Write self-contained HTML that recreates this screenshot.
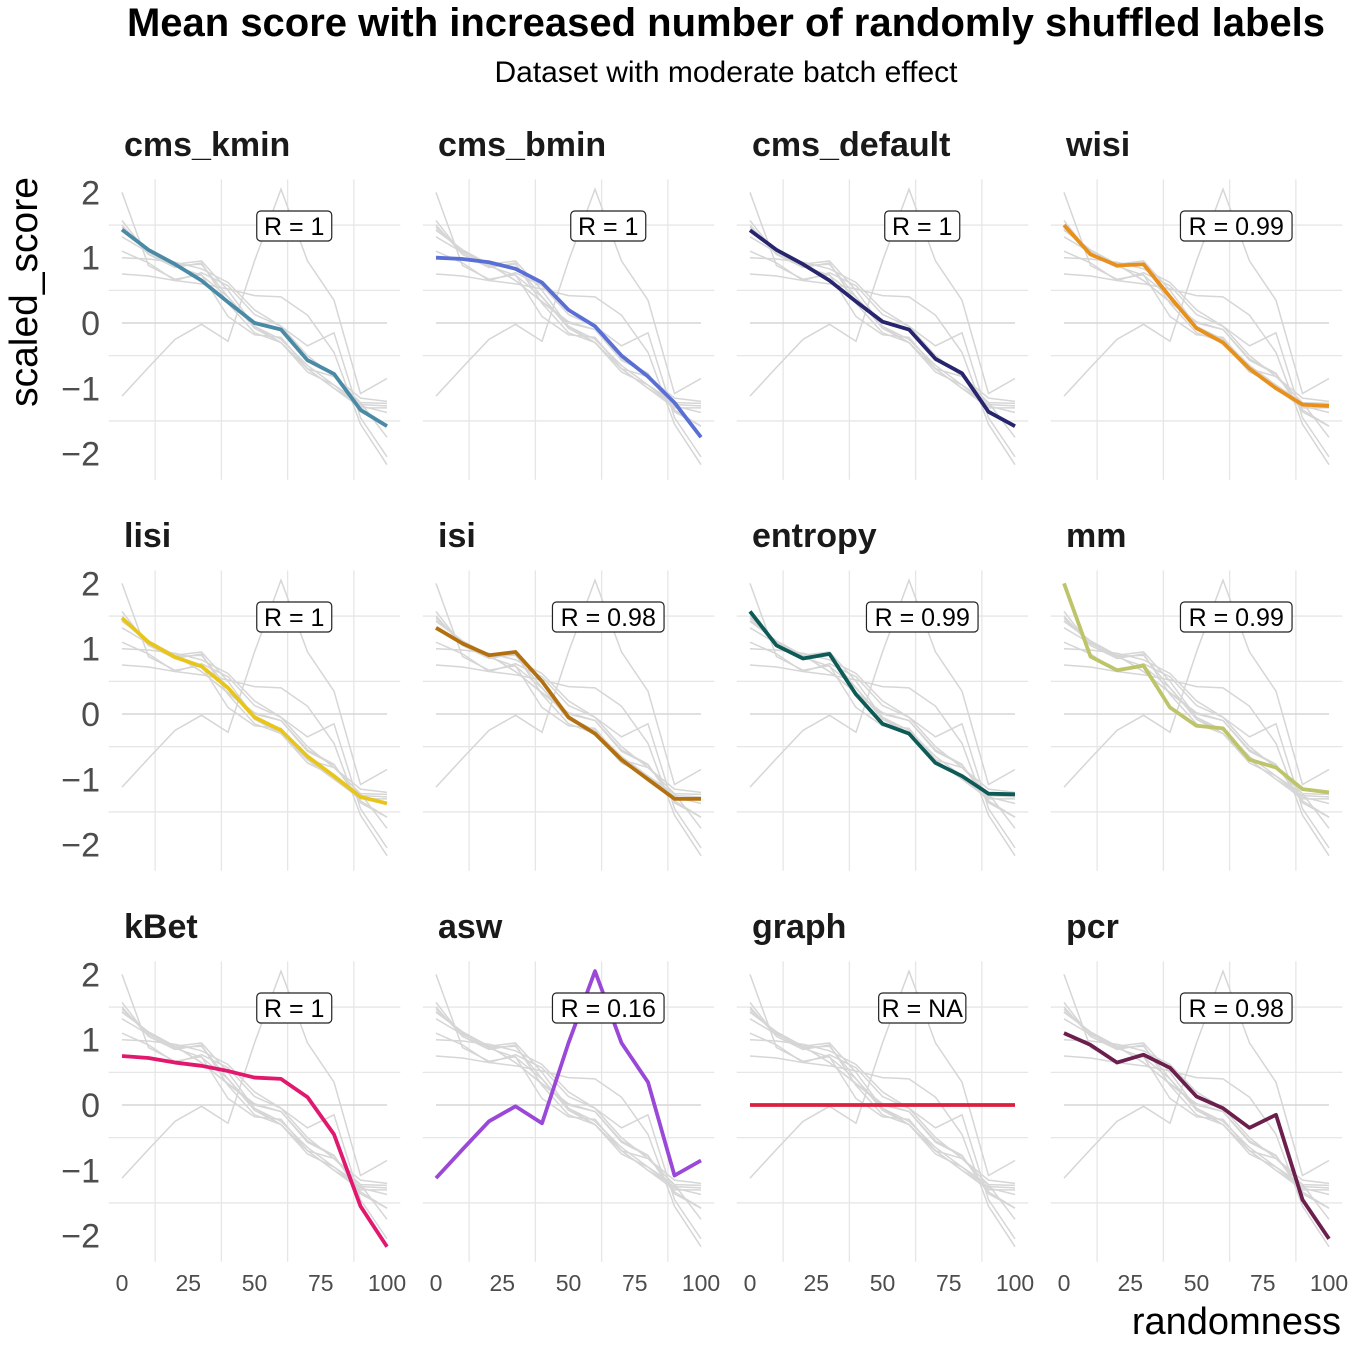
<!DOCTYPE html>
<html><head><meta charset="utf-8"><style>
html,body{margin:0;padding:0;background:#fff;}
svg text{font-family:"Liberation Sans",sans-serif;}
</style></head><body>
<svg id="chart" width="1350" height="1350" viewBox="0 0 1350 1350" xmlns="http://www.w3.org/2000/svg">
<text x="726" y="36" text-anchor="middle" font-size="40" font-weight="bold" fill="#000">Mean score with increased number of randomly shuffled labels</text>
<text x="726" y="82" text-anchor="middle" font-size="30" fill="#000">Dataset with moderate batch effect</text>
<text transform="translate(37,292) rotate(-90)" text-anchor="middle" font-size="39" fill="#000">scaled_score</text>
<text x="1341" y="1334" text-anchor="end" font-size="38" fill="#000">randomness</text>
<g id="panels"></g>
</svg>
<script>
const xValues = [0,10,20,30,40,50,60,70,80,90,100];
const metricNames = ["cms_kmin","cms_bmin","cms_default","wisi","lisi","isi","entropy","mm","kBet","asw","graph","pcr"];
const rLabels = ["R = 1","R = 1","R = 1","R = 0.99","R = 1","R = 0.98","R = 0.99","R = 0.99","R = 1","R = 0.16","R = NA","R = 0.98"];
const colors = ["#4a8aa6","#5a6fd6","#26256e","#e8901c","#e8c51a","#b3700f","#0d5a57","#bec46a","#e0196e","#9a48d8","#dc1f3c","#6b1f4d"];
const s_cms_kmin = [1.43,1.12,0.9,0.65,0.32,0.0,-0.1,-0.57,-0.78,-1.33,-1.58];
const s_cms_bmin = [1.0,0.98,0.93,0.83,0.62,0.2,-0.05,-0.5,-0.82,-1.22,-1.75];
const s_cms_default = [1.42,1.12,0.9,0.65,0.33,0.02,-0.1,-0.55,-0.77,-1.36,-1.58];
const s_wisi = [1.5,1.05,0.88,0.9,0.4,-0.08,-0.3,-0.7,-1.0,-1.25,-1.27];
const s_lisi = [1.47,1.1,0.87,0.73,0.4,-0.05,-0.25,-0.65,-0.95,-1.27,-1.37];
const s_isi = [1.32,1.08,0.9,0.95,0.5,-0.05,-0.3,-0.7,-1.0,-1.3,-1.3];
const s_entropy = [1.57,1.05,0.85,0.92,0.3,-0.15,-0.3,-0.75,-0.95,-1.22,-1.23];
const s_mm = [2.0,0.88,0.67,0.74,0.1,-0.18,-0.22,-0.7,-0.82,-1.15,-1.2];
const s_kBet = [0.75,0.72,0.65,0.6,0.52,0.42,0.4,0.12,-0.45,-1.55,-2.17];
const s_asw = [-1.12,-0.68,-0.25,-0.02,-0.28,0.95,2.05,0.95,0.35,-1.08,-0.85];
const s_graph = [0,0,0,0,0,0,0,0,0,0,0];
const s_pcr = [1.1,0.92,0.65,0.77,0.57,0.13,-0.05,-0.35,-0.15,-1.45,-2.05];
const series = [s_cms_kmin,s_cms_bmin,s_cms_default,s_wisi,s_lisi,s_isi,s_entropy,s_mm,s_kBet,s_asw,s_graph,s_pcr];
const yTicks = [2,1,0,-1,-2];
const yTickLabels = ["2","1","0","\u22121","\u22122"];
const xTicks = [0,25,50,75,100];
const rLabelX = 65;

const NS="http://www.w3.org/2000/svg";
const root=document.getElementById('panels');
function mk(tag,attrs,parent){const e=document.createElementNS(NS,tag);for(const k in attrs)e.setAttribute(k,attrs[k]);parent.appendChild(e);return e;}
for(let i=0;i<12;i++){
  const col=i%4,row=Math.floor(i/4);
  const x0=122+col*314, y0=323+row*391;
  const sx=v=>x0+v*2.65, sy=v=>y0-v*65.3;
  const g=mk('g',{},root);
  
  
  [12.5,37.5,62.5,87.5].forEach(v=>{const l=mk('line',{x1:sx(v),x2:sx(v),y1:sy(2.2),y2:sy(-2.4),stroke:'#e6e6e6','stroke-width':1.3},g);
    
    });
  [1.5,0.5,-0.5,-1.5].forEach(v=>{const l=mk('line',{x1:sx(-5),x2:sx(105),y1:sy(v),y2:sy(v),stroke:'#e6e6e6','stroke-width':1.3},g);
    
    });
  const t=mk('text',{x:x0+2,y:y0-167,'font-size':34,'font-weight':'bold',fill:'#1a1a1a'},g);
  t.textContent=metricNames[i];
  
  
  if(col===0){yTicks.forEach((v,k)=>{const tt=mk('text',{x:100,y:sy(v)+12,'text-anchor':'end','font-size':34,fill:'#4d4d4d'},g);tt.textContent=yTickLabels[k];
    
    });}
  if(row===2){xTicks.forEach(v=>{const tt=mk('text',{x:sx(v),y:1291,'text-anchor':'middle','font-size':23,fill:'#4d4d4d'},g);tt.textContent=String(v);
    
    });}
  for(let j=0;j<12;j++){
    const p=mk('polyline',{points:xValues.map((x,k)=>sx(x)+','+sy(series[j][k])).join(' '),fill:'none',stroke:'#d6d6d6','stroke-width':1.5},g);
    
    
  }
  const p=mk('polyline',{points:xValues.map((x,k)=>sx(x)+','+sy(series[i][k])).join(' '),fill:'none',stroke:colors[i],'stroke-width':3.8,'stroke-linejoin':'round'},g);
  
  
  const txt=rLabels[i];
  const w=txt.length*12.2+14;
  const cx=sx(rLabelX), cy=y0-97;
  const r=mk('rect',{x:cx-w/2,y:cy-15,width:w,height:30,rx:4,fill:'#fff',stroke:'#222','stroke-width':1.2},g);
  
  
  const rt=mk('text',{x:cx,y:cy+9,'text-anchor':'middle','font-size':25,fill:'#000'},g);
  rt.textContent=txt;
  
  
}
</script>
</body></html>
